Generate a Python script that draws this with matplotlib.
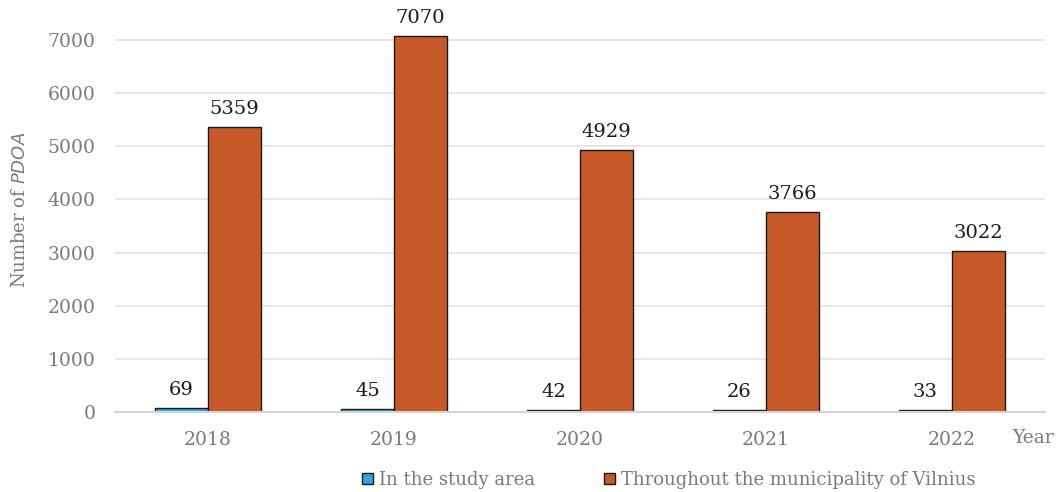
import numpy as np
import matplotlib.pyplot as plt

years = ['2018', '2019', '2020', '2021', '2022']
study_area = [69, 45, 42, 26, 33]
vilnius = [5359, 7070, 4929, 3766, 3022]

plt.rcParams['font.family'] = ['DejaVu Serif']

fig = plt.figure(figsize=(10.6, 4.92), dpi=100)
ax = fig.add_axes([0.1085, 0.163, 0.877, 0.82])

x = np.arange(len(years))
w = 0.285
b1 = ax.bar(x - w / 2, study_area, width=w, color='#29A9E0', edgecolor='#1a1a1a', linewidth=1,
            label='In the study area', zorder=3)
b2 = ax.bar(x + w / 2, vilnius, width=w, color='#C55A28', edgecolor='#1a1a1a', linewidth=1,
            label='Throughout the municipality of Vilnius', zorder=3)

for bars in (b1, b2):
    for r in bars:
        ax.text(r.get_x() + r.get_width() / 2, r.get_height() + 170, f'{int(r.get_height())}',
                ha='center', va='bottom', fontsize=14, color='#1a1a1a')

ax.set_xlim(-0.5, 4.5)
ax.set_ylim(0, 7600)
ax.set_yticks(range(0, 7001, 1000))
ax.set_xticks(x)
ax.set_xticklabels(years)
ax.tick_params(length=0, labelsize=13.5, colors='#7a7a7a')
ax.tick_params(axis='x', pad=14)
ax.tick_params(axis='y', pad=14)
ax.grid(axis='y', color='#e0e0e0', linewidth=1.1, zorder=0)
for s in ['top', 'right', 'left']:
    ax.spines[s].set_visible(False)
ax.spines['bottom'].set_color('#d4d4d4')
ax.spines['bottom'].set_linewidth(1.5)
ax.spines['bottom'].set_zorder(4)

ax.set_ylabel('Number of $\\it{PDOA}$', fontsize=13, color='#7a7a7a')
ax.yaxis.set_label_coords(-0.093, 0.5)
ax.text(0.965, -0.065, 'Year', transform=ax.transAxes, fontsize=13.5, color='#7a7a7a',
        ha='left', va='center')

ax.legend(loc='center', bbox_to_anchor=(0.631, 0.025), bbox_transform=fig.transFigure, ncol=2,
          frameon=False, fontsize=13, labelcolor='#7a7a7a', handlelength=0.6, handleheight=0.6,
          handletextpad=0.35, columnspacing=3.8, borderpad=0)

fig.savefig('out.png', dpi=100)
